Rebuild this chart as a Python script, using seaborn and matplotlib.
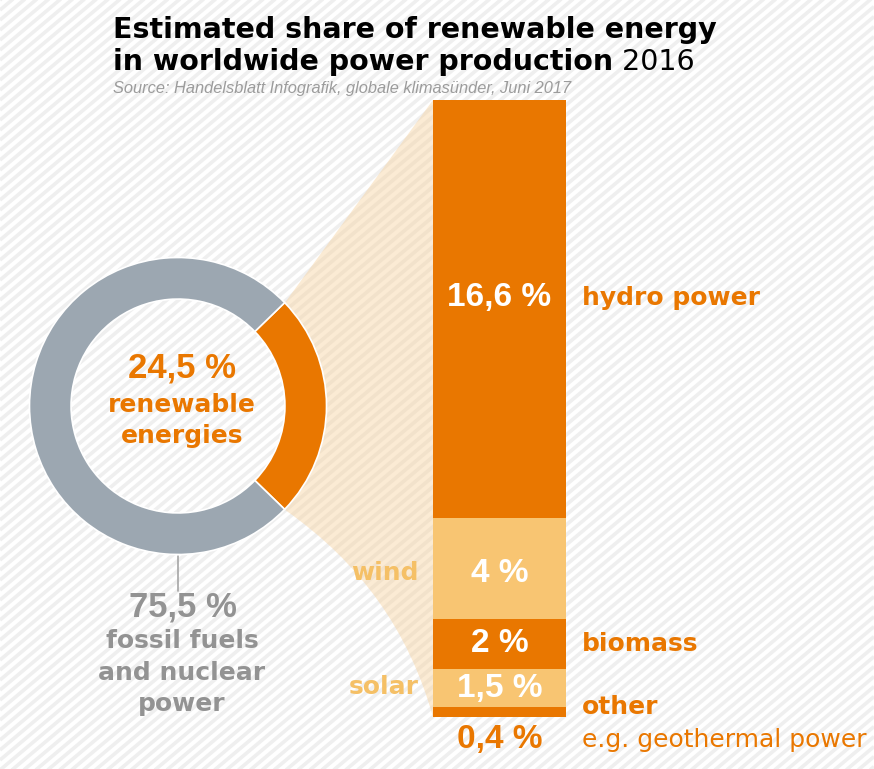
import numpy as np
import pandas as pd
import matplotlib
matplotlib.use("Agg")
import matplotlib.pyplot as plt
from matplotlib.path import Path
from matplotlib.patches import PathPatch
from matplotlib.transforms import blended_transform_factory
import seaborn as sns

# Share of world power production, 2016 (%)
overview_labels = ["renewable energies", "fossil fuels and nuclear power"]
overview_values = [24.5, 75.5]
overview_texts = ["24,5 %", "75,5 %"]

# Breakdown of the renewable share, listed top to bottom of the stacked bar
sources = ["hydro power", "wind", "biomass", "solar", "other"]
source_values = [16.6, 4.0, 2.0, 1.5, 0.4]
source_texts = ["16,6 %", "4 %", "2 %", "1,5 %", "0,4 %"]

ORANGE = "#E97700"
LIGHT = "#F8C572"
GREY_RING = "#9CA7B1"
GREY_TEXT = "#939393"
LABEL_LIGHT = "#F5C066"
segment_colors = [ORANGE, LIGHT, ORANGE, LIGHT, ORANGE]

W, H = 874, 769
sns.set_theme(style="white")
plt.rcParams["font.family"] = ["DejaVu Sans"]

fig = plt.figure(figsize=(W / 100, H / 100), dpi=100)
fig.patch.set_facecolor("white")

# full-figure canvas in pixel units for decoration and text
bg = fig.add_axes([0, 0, 1, 1])
bg.set_xlim(0, W)
bg.set_ylim(H, 0)
bg.axis("off")

# diagonal background stripes
slope = np.tan(np.radians(40))
xs = np.array([0.0, W])
for c in np.arange(0, H + slope * W + 12, 10):
    bg.plot(xs, c - slope * xs, color="#EFEFEF", lw=2.6,
            solid_capstyle="butt", zorder=0)

# layout of the two charts (pixels)
cx, cy, R = 178, 406, 150
ring_width = 0.28
bar_left, bar_right, bar_top, bar_bottom = 433, 566, 100, 717

# connector between the renewable arc and the stacked bar
half = np.radians(overview_values[0] * 3.6 / 2)
p_top = (cx + R * np.cos(half), cy - R * np.sin(half))
p_bot = (cx + R * np.cos(half), cy + R * np.sin(half))
arc = np.linspace(-half, half, 30)
verts = [p_top, (bar_left, bar_top), (bar_left, bar_bottom), (397, 588), p_bot]
codes = [Path.MOVETO, Path.LINETO, Path.LINETO, Path.CURVE3, Path.CURVE3]
for a in arc:
    verts.append((cx + (R - 6) * np.cos(a), cy - (R - 6) * np.sin(a)))
    codes.append(Path.LINETO)
verts.append(p_top)
codes.append(Path.CLOSEPOLY)
bg.add_patch(PathPatch(Path(verts, codes), facecolor="#F7D3A0", alpha=0.45,
                       edgecolor="none", zorder=1))

# connector line from the ring to the fossil label
bg.plot([cx, cx], [cy + R, cy + R + 35], color="#A5A5A5", lw=1.2, zorder=2)

# donut chart
dax = fig.add_axes([(cx - R) / W, (H - cy - R) / H, 2 * R / W, 2 * R / H])
dax.pie(overview_values, colors=[ORANGE, GREY_RING],
        startangle=-overview_values[0] * 3.6 / 2, counterclock=True,
        radius=1, wedgeprops=dict(width=ring_width, edgecolor="white", linewidth=1.2))
dax.set_xlim(-1.01, 1.01)
dax.set_ylim(-1.01, 1.01)
dax.axis("off")
dax.patch.set_alpha(0)

# stacked bar: layered bars of the cumulative totals
total = sum(source_values)
tops = np.cumsum(source_values[::-1])[::-1]
df = pd.DataFrame({"source": sources, "value": source_values, "top": tops,
                   "color": segment_colors, "year": "2016"})
bax = fig.add_axes([bar_left / W, (H - bar_bottom) / H,
                    (bar_right - bar_left) / W, (bar_bottom - bar_top) / H])
for _, row in df.iterrows():
    sns.barplot(x=[row["year"]], y=[row["top"]], color=row["color"], width=1,
                saturation=1, linewidth=0, ax=bax)
bax.set_xlim(-0.5, 0.5)
bax.set_ylim(0, total)
bax.axis("off")
bax.patch.set_alpha(0)

mids = df["top"] - df["value"] / 2
mids = mids.to_numpy()
mids[0] += 0.45  # keep the hydro label level with its name
mids[1] -= 0.2

bar_font = dict(family="Liberation Sans", weight="bold", size=24)
for i in range(4):
    bax.text(0, mids[i], source_texts[i], color="white", ha="center",
             va="center", **bar_font)
side = blended_transform_factory(bg.transData, bax.transData)
bg.text(500, -0.9, source_texts[4], transform=side, color=ORANGE,
        ha="center", va="center", **bar_font)

lab = dict(weight="bold", size=18)
bg.text(582, mids[0], "hydro power", transform=side, color=ORANGE,
        ha="left", va="center", **lab)
bg.text(582, mids[2], "biomass", transform=side, color=ORANGE,
        ha="left", va="center", **lab)
bg.text(582, 0.4, "other", transform=side, color=ORANGE,
        ha="left", va="center", **lab)
bg.text(582, -0.9, "e.g. geothermal power", transform=side, color=ORANGE,
        ha="left", va="center", size=18)
bg.text(419, mids[1], "wind", transform=side, color=LABEL_LIGHT,
        ha="right", va="center", **lab)
bg.text(419, mids[3] + 0.05, "solar", transform=side, color=LABEL_LIGHT,
        ha="right", va="center", **lab)

# donut labels
big = dict(family="Liberation Sans", weight="bold", size=25)
bg.text(182, 368, overview_texts[0], color=ORANGE, ha="center", va="center", **big)
bg.text(182, 405, "renewable", color=ORANGE, ha="center", va="center", **lab)
bg.text(182, 436, "energies", color=ORANGE, ha="center", va="center", **lab)
bg.text(183, 607, overview_texts[1], color=GREY_TEXT, ha="center", va="center", **big)
for y, line in zip([641, 673, 704], ["fossil fuels", "and nuclear", "power"]):
    bg.text(182, y, line, color=GREY_TEXT, ha="center", va="center", **lab)

# title and source
t1 = bg.text(113, 38, "Estimated share of renewable energy", color="black",
             weight="bold", size=20.5, ha="left", va="baseline")
t2 = bg.text(113, 70, "in worldwide power production", color="black",
             weight="bold", size=20.5, ha="left", va="baseline")
bg.annotate(" 2016", xy=(1, 0), xycoords=t2, color="black", size=20.5,
            ha="left", va="bottom")
bg.text(113, 89, "Source: Handelsblatt Infografik, globale klimasünder, Juni 2017",
        color="#9C9C9C", family="Liberation Sans", style="italic", size=11.8,
        ha="left", va="center")

fig.savefig("out.png", dpi=100, facecolor="white")
